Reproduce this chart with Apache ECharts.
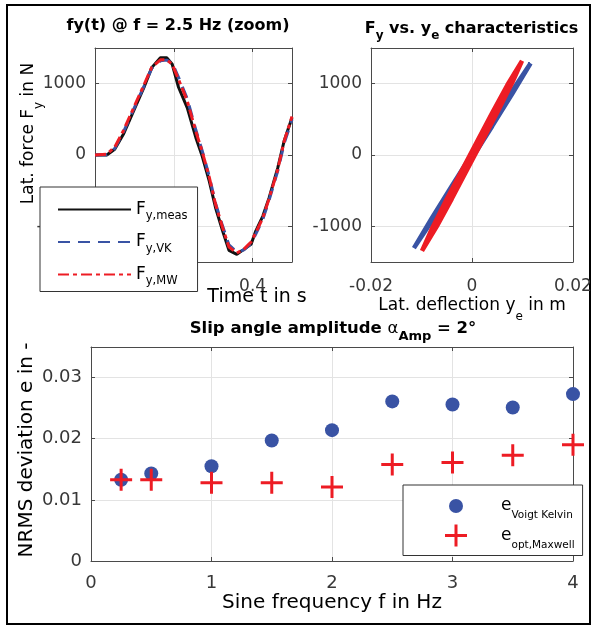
<!DOCTYPE html>
<html><head><meta charset="utf-8">
<script src="https://cdn.jsdelivr.net/npm/echarts@6/dist/echarts.min.js"></script>
<style>html,body{margin:0;padding:0;background:#fff}#c{width:595px;height:627px}</style>
</head><body><div id="c"></div>
<script>
// ---- data ----
const tTime  = [0.200,0.215,0.225,0.236,0.249,0.262,0.272,0.283,0.291,0.298,0.306,0.317,0.328,0.336,0.345,0.353,0.362,0.370,0.380,0.389,0.398,0.404,0.413,0.421,0.432,0.440,0.450];
const fyMeas = [0,0,80,290,617,944,1225,1365,1365,1272,950,663,243,-14,-365,-739,-1066,-1337,-1393,-1323,-1253,-1066,-856,-599,-178,196,523];
const fyVK   = [0,5,90,320,640,960,1215,1320,1330,1290,1090,790,350,60,-300,-680,-1000,-1260,-1360,-1330,-1240,-1110,-900,-630,-220,160,500];
const fyMW   = [0,10,110,340,660,980,1230,1335,1335,1270,1060,760,330,50,-310,-690,-1020,-1290,-1375,-1320,-1220,-1090,-880,-610,-200,190,540];

const yeLoopVK = [-0.0115,-0.008,-0.004,0,0.004,0.008,0.0116,0.008,0.004,0,-0.004,-0.008,-0.0115];
const fyLoopVK = [-1305,-890,-434,15,464,904,1286,860,404,-45,-494,-934,-1305];
const yeLoopMW = [-0.0099,-0.008,-0.005,-0.002,0.001,0.004,0.007,0.0099,0.008,0.005,0.002,-0.001,-0.004,-0.007,-0.0099];
const fyLoopMW = [-1343,-1042,-618,-215,189,592,981,1320,1020,597,193,-211,-614,-1003,-1343];

const freq = [0.25,0.5,1,1.5,2,2.5,3,3.5,4];
const eVK  = [0.0133,0.0143,0.0155,0.0197,0.0214,0.0261,0.0256,0.0251,0.0273];
const eMW  = [0.0133,0.0133,0.0128,0.0128,0.0121,0.0158,0.0161,0.0173,0.0190];

const timeTicks  = [0.2,0.3,0.4];
const forceTicks = [-1000,0,1000];
const deflTicks  = [-0.02,0,0.02];
const freqTicks  = [0,1,2,3,4];
const errTicks   = [0,0.01,0.02,0.03];

// ---- styling ----
const FD = 'DejaVu Sans';
const blueC = '#3953a4', redC = '#ed1c24';
const axC = '#4a4a4a', gridC = '#e3e3e3', tickTxt = '#383838';
const zip = (a,b) => a.map((v,i)=>[v,b[i]]);
const fmt = ticks => v => { const t = ticks.find(x=>Math.abs(x-v)<1e-9); return t===undefined ? '' : String(t); };

function axis(grid, pos, min, max, opts, ticks, fs, margin){
  const main = (pos==='bottom'||pos==='left');
  const a = {
    gridIndex:grid, type:'value', position:pos, min:min, max:max,
    axisLine:{show:true, onZero:false, lineStyle:{color:axC, width:1}},
    axisTick:{show:true, inside:true, length:4, lineStyle:{color:axC}},
    axisLabel:{show:main, margin:margin, fontSize:fs, fontFamily:FD, color:tickTxt, formatter: ticks?fmt(ticks):undefined},
    splitLine:{show:main, lineStyle:{color:gridC, width:1}}
  };
  return Object.assign(a, opts);
}

const plusPath = 'path://M9.5,0h3v9.5h9.5v3h-9.5v9.5h-3v-9.5h-9.5v-3h9.5z';
const circIcon = 'path://M0,0M22,22M4,11A7,7,0,1,0,18,11A7,7,0,1,0,4,11Z';

function txt(x,y,text,rich,rot){
  return {type:'text', x:x, y:y, rotation:rot||0, silent:true,
    style:{text:text, rich:rich, align:'center', verticalAlign:'middle', textAlign:'center', textVerticalAlign:'middle'}};
}

const chart = echarts.init(document.getElementById('c'), null, {renderer:'canvas'});
chart.setOption({
  animation:false,
  backgroundColor:'#fff',
  grid:[
    {left:95, top:48, width:197, height:214},
    {left:371, top:48, width:202, height:214},
    {left:91, top:347, width:482, height:214}
  ],
  xAxis:[
    axis(0,'bottom',0.2,0.45,{interval:0.1},timeTicks,17,16),
    axis(0,'top',0.2,0.45,{interval:0.1},null,17,16),
    axis(1,'bottom',-0.02,0.02,{interval:0.02},deflTicks,17,16),
    axis(1,'top',-0.02,0.02,{interval:0.02},null,17,16),
    axis(2,'bottom',0,4,{interval:1},freqTicks,18,13),
    axis(2,'top',0,4,{interval:1},null,18,13)
  ],
  yAxis:[
    axis(0,'left',-1500,1500,{splitNumber:3},forceTicks,17,9),
    axis(0,'right',-1500,1500,{splitNumber:3},null,17,9),
    axis(1,'left',-1500,1500,{splitNumber:3},forceTicks,17,9),
    axis(1,'right',-1500,1500,{splitNumber:3},null,17,9),
    axis(2,'left',0,0.035,{interval:0.01},errTicks,18,9),
    axis(2,'right',0,0.035,{interval:0.01},null,18,9)
  ],
  legend:[
    {
      data:['meas','VK','MW'], orient:'vertical', left:40, top:187, selectedMode:false,
      padding:[14,10,4,17], itemWidth:73, itemHeight:14, itemGap:11,
      backgroundColor:'#fff', borderColor:'#333', borderWidth:1, z:10,
      itemStyle:{opacity:0},
      formatter: n => '{m|F}{s|y,' + n + '}',
      textStyle:{rich:{
        m:{fontSize:17, fontFamily:FD, color:'#000'},
        s:{fontSize:11.5, fontFamily:FD, color:'#000', padding:[14,0,0,0]}
      }}
    },
    {
      data:[{name:'Voigt Kelvin', icon:circIcon},{name:'opt,Maxwell', icon:plusPath}],
      orient:'vertical', left:403, top:485, selectedMode:false,
      padding:[10,8,5,42], itemWidth:80, itemHeight:22, itemGap:3.5,
      backgroundColor:'#fff', borderColor:'#333', borderWidth:1, z:10,
      formatter: n => '{m|e}{s|' + n + '}',
      textStyle:{rich:{
        m:{fontSize:17, fontFamily:FD, color:'#000'},
        s:{fontSize:10.5, fontFamily:FD, color:'#000', padding:[19,0,0,0]}
      }}
    }
  ],
  series:[
    {type:'line', name:'meas', xAxisIndex:0, yAxisIndex:0, data:zip(tTime,fyMeas), symbol:'none',
      lineStyle:{color:'#111', width:3}, itemStyle:{color:'#111'}},
    {type:'line', name:'VK', xAxisIndex:0, yAxisIndex:0, data:zip(tTime,fyVK), symbol:'none',
      lineStyle:{color:blueC, width:3, type:[12,8]}, itemStyle:{color:blueC}},
    {type:'line', name:'MW', xAxisIndex:0, yAxisIndex:0, data:zip(tTime,fyMW), symbol:'none',
      lineStyle:{color:redC, width:3, type:[11,4,4,4]}, itemStyle:{color:redC}},
    {type:'line', name:'loopVK', xAxisIndex:2, yAxisIndex:2, data:zip(yeLoopVK,fyLoopVK), symbol:'none',
      lineStyle:{color:blueC, width:4.5}},
    {type:'line', name:'loopMW', xAxisIndex:2, yAxisIndex:2, data:zip(yeLoopMW,fyLoopMW), symbol:'none',
      lineStyle:{color:redC, width:4.5}},
    {type:'scatter', name:'Voigt Kelvin', xAxisIndex:4, yAxisIndex:4, data:zip(freq,eVK),
      symbol:'circle', symbolSize:14, itemStyle:{color:blueC, opacity:1}},
    {type:'scatter', name:'opt,Maxwell', xAxisIndex:4, yAxisIndex:4, data:zip(freq,eMW),
      symbol:plusPath, symbolSize:22, itemStyle:{color:redC, opacity:1}}
  ],
  graphic:[
    {type:'rect', shape:{x:7, y:5, width:583, height:619}, style:{fill:'none', stroke:'#000', lineWidth:2}, silent:true, z:-1},
    txt(178,25.5,'{b|fy(t) @ f = 2.5 Hz (zoom)}',{b:{fontSize:16, fontWeight:'bold', fontFamily:FD, color:'#000'}}),
    txt(471.5,28.8,'{b|F}{s|y}{b| vs. y}{s|e}{b| characteristics}',{
      b:{fontSize:16, fontWeight:'bold', fontFamily:FD, color:'#000'},
      s:{fontSize:12, fontWeight:'bold', fontFamily:FD, color:'#000', padding:[14,0,0,0]}}),
    txt(333,328.3,'{b|Slip angle amplitude }{a|α}{s|Amp}{b| = 2°}',{
      b:{fontSize:16.5, fontWeight:'bold', fontFamily:FD, color:'#000'},
      a:{fontSize:16.5, fontFamily:FD, color:'#000'},
      s:{fontSize:13, fontWeight:'bold', fontFamily:FD, color:'#000', padding:[16,0,0,0]}}),
    txt(29,133.5,'{m|Lat. force F}{s|y}{m| in N}',{
      m:{fontSize:17, fontFamily:FD, color:'#262626'},
      s:{fontSize:12, fontFamily:FD, color:'#262626', padding:[20,0,0,0]}}, Math.PI/2),
    txt(257,297,'{m|Time t in s}',{m:{fontSize:19, fontFamily:FD, color:'#262626'}}),
    txt(472,306,'{m|Lat. deflection y}{s|e}{m| in m}',{
      m:{fontSize:17, fontFamily:FD, color:'#262626'},
      s:{fontSize:12, fontFamily:FD, color:'#262626', padding:[21,0,0,0]}}),
    txt(27,450,'{m|NRMS deviation e in -}',{m:{fontSize:20, fontFamily:FD, color:'#262626'}}, Math.PI/2),
    txt(332,603,'{m|Sine frequency f in Hz}',{m:{fontSize:20, fontFamily:FD, color:'#262626'}})
  ]
});
</script></body></html>
